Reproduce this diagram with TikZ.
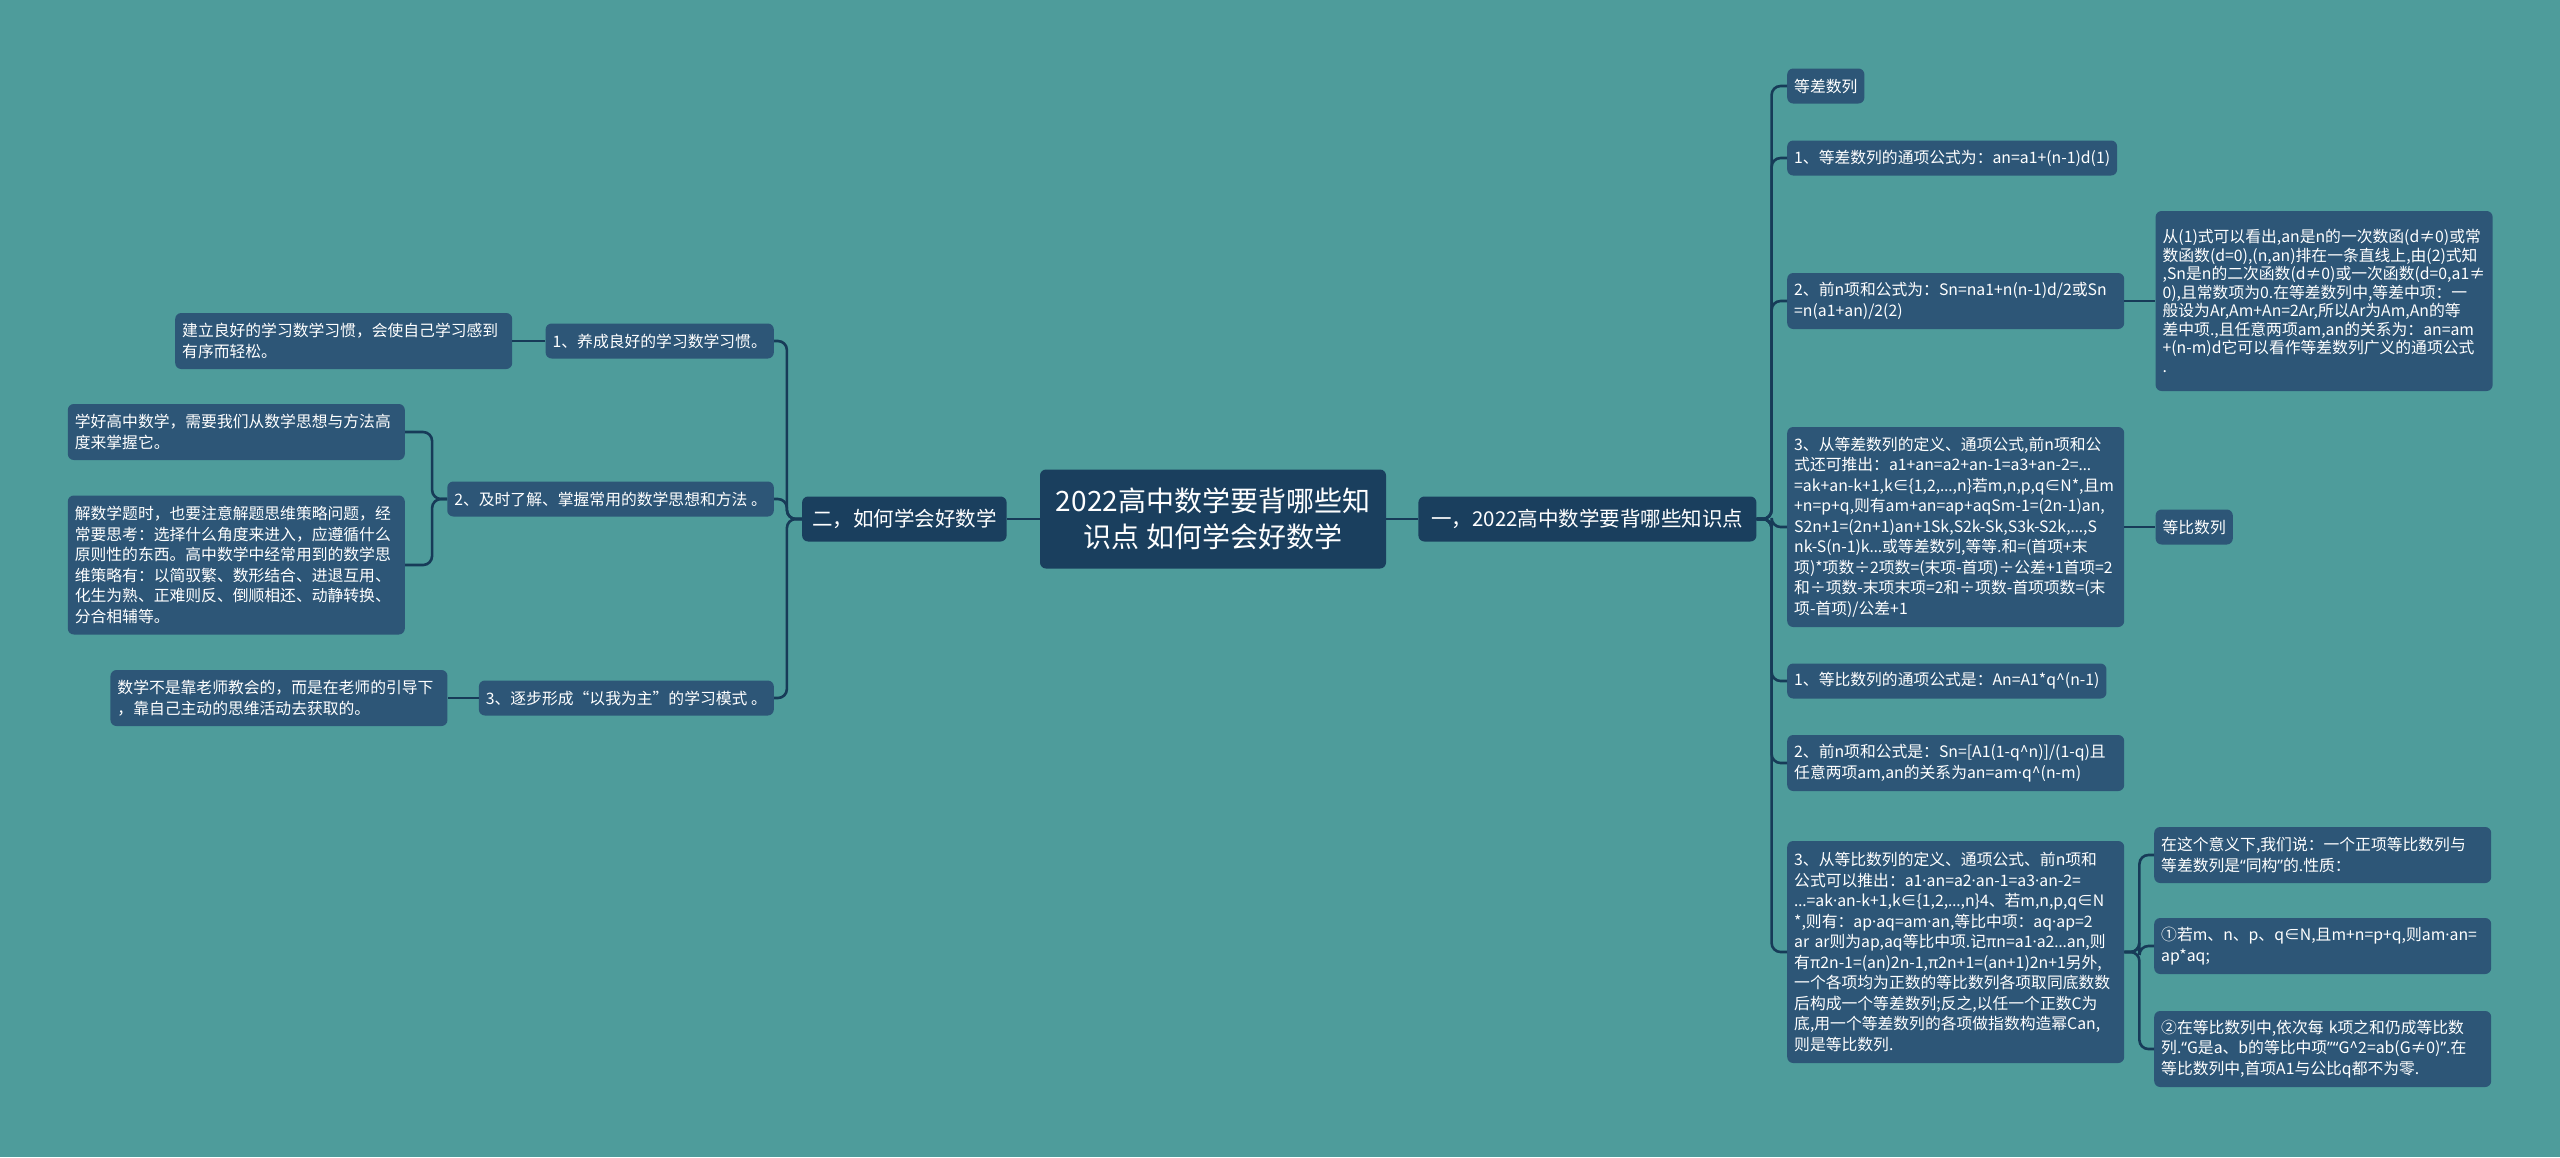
\documentclass[tikz,border=0pt]{standalone}
\usepackage{fontspec}
\setmainfont{Noto Sans CJK SC}
\newfontfamily\latn{Noto Sans}
\usepackage{xcolor}
\usepackage{tikz}
\usetikzlibrary{positioning}
\definecolor{bgteal}{HTML}{4E9C9B}
\definecolor{boxblue}{HTML}{2D5677}
\definecolor{darkblue}{HTML}{1A3F5E}
\definecolor{linkblue}{HTML}{173B58}
\hyphenpenalty=10000\relax
\exhyphenpenalty=10000\relax
\newcommand{\mdot}{{\latn ·}}
\newcommand{\ellip}{{\latn …}}
\newcommand{\qo}{{\latn “}}
\newcommand{\qc}{{\latn ”}}

\begin{document}
\begin{tikzpicture}[x=1pt,y=-1pt,
    s/.style={fill=boxblue,text=white,rounded corners=6pt,inner xsep=7pt,inner ysep=7pt,minimum height=35pt,align=left,
      font=\fontsize{15.8}{20.5}\selectfont},
    w/.style={s,text width=323pt,minimum height=56pt},
    m/.style={fill=darkblue,text=white,rounded corners=6pt,inner xsep=10pt,minimum height=45pt,font=\fontsize{20.5}{24}\selectfont},
    hub/.style={m,minimum width=346pt,minimum height=99pt,align=center,font=\fontsize{28}{36}\selectfont},
    link/.style={draw=linkblue,line width=2.6pt,rounded corners=9pt}
  ]
    \fill[bgteal] (0,0) rectangle (2560,1157);
    \useasboundingbox (0,0) rectangle (2560,1157);

    \node[hub] (root) at (1213,519) {2022高中数学要背哪些知\\识点 如何学会好数学};
    \node[m,minimum width=338pt,right=32pt of root] (R) {一，2022高中数学要背哪些知识点};
    \node[m,left=33pt of root] (L) {二，如何学会好数学};

    \node[s,anchor=west] (r0) at (1787,86) {等差数列};
    \node[s,anchor=west] (r1) at (1787,158) {1、等差数列的通项公式为：an=a1+(n-1)d(1)};
    \node[w,anchor=west] (r2) at (1787,301) {2、前n项和公式为：Sn=na1+n(n-1)d/2或Sn\\=n(a1+an)/2(2)};
    \node[w,anchor=west,minimum height=200pt] (r3) at (1787,527) {3、从等差数列的定义、通项公式,前n项和公\\式还可推出：a1+an=a2+an-1=a3+an-2=\ellip{}\\=ak+an-k+1,k∈\{1,2,\ellip{},n\}若m,n,p,q∈N*,且m\\+n=p+q,则有am+an=ap+aqSm-1=(2n-1)an,\\S2n+1=(2n+1)an+1Sk,S2k-Sk,S3k-S2k,\ellip{},S\\nk-S(n-1)k\ellip{}或等差数列,等等.和=(首项+末\\项)*项数÷2项数=(末项-首项)÷公差+1首项=2\\和÷项数-末项末项=2和÷项数-首项项数=(末\\项-首项)/公差+1};
    \node[s,anchor=west] (r4) at (1787,681) {1、等比数列的通项公式是：An=A1*q\textasciicircum(n-1)};
    \node[w,anchor=west] (r5) at (1787,763) {2、前n项和公式是：Sn=[A1(1-q\textasciicircum n)]/(1-q)且\\任意两项am,an的关系为an=am\mdot{}q\textasciicircum(n-m)};
    \node[w,anchor=west,minimum height=222pt] (r6) at (1787,952) {3、从等比数列的定义、通项公式、前n项和\\公式可以推出：a1\mdot{}an=a2\mdot{}an-1=a3\mdot{}an-2=\\\ellip{}=ak\mdot{}an-k+1,k∈\{1,2,\ellip{},n\}4、若m,n,p,q∈N\\{*},则有：ap\mdot{}aq=am\mdot{}an,等比中项：aq\mdot{}ap=2\\ar ar则为ap,aq等比中项.记πn=a1\mdot{}a2\ellip{}an,则\\有π2n-1=(an)2n-1,π2n+1=(an+1)2n+1另外,\\一个各项均为正数的等比数列各项取同底数数\\后构成一个等差数列;反之,以任一个正数C为\\底,用一个等差数列的各项做指数构造幂Can,\\则是等比数列.};
    \node[w,right=31pt of r2,minimum height=180pt,font=\fontsize{15.8}{18.5}\selectfont] (r2a) {从(1)式可以看出,an是n的一次数函(d≠0)或常\\数函数(d=0),(n,an)排在一条直线上,由(2)式知\\,Sn是n的二次函数(d≠0)或一次函数(d=0,a1≠\\0),且常数项为0.在等差数列中,等差中项：一\\般设为Ar,Am+An=2Ar,所以Ar为Am,An的等\\差中项.,且任意两项am,an的关系为：an=am\\+(n-m)d它可以看作等差数列广义的通项公式\\.};
    \node[s,right=31pt of r3] (r3a) {等比数列};
    \node[w,anchor=west] (r6a) at (2154,855) {在这个意义下,我们说：一个正项等比数列与\\等差数列是\qo{}同构\qc{}的.性质：};
    \node[w,anchor=west] (r6b) at (2154,946) {①若m、n、p、q∈N,且m+n=p+q,则am\mdot{}an=\\ap*aq;};
    \node[w,anchor=west,minimum height=76pt] (r6c) at (2154,1049) {②在等比数列中,依次每 k项之和仍成等比数\\列.\qo{}G是a、b的等比中项\qc\qo{}G\textasciicircum 2=ab(G≠0)\qc{}.在\\等比数列中,首项A1与公比q都不为零.};

    \node[s,anchor=east] (l1) at (774,341) {1、养成良好的学习数学习惯。};
    \node[s,anchor=east] (l2) at (774,499) {2、及时了解、掌握常用的数学思想和方法 。};
    \node[s,anchor=east] (l3) at (774,698) {3、逐步形成“以我为主”的学习模式 。};
    \node[w,left=33pt of l1] (l1a) {建立良好的学习数学习惯，会使自己学习感到\\有序而轻松。};
    \node[w,anchor=east] (l2a) at (405,432) {学好高中数学，需要我们从数学思想与方法高\\度来掌握它。};
    \node[w,anchor=east,minimum height=139pt] (l2b) at (405,565) {解数学题时，也要注意解题思维策略问题，经\\常要思考：选择什么角度来进入，应遵循什么\\原则性的东西。高中数学中经常用到的数学思\\维策略有：以简驭繁、数形结合、进退互用、\\化生为熟、正难则反、倒顺相还、动静转换、\\分合相辅等。};
    \node[w,left=31pt of l3] (l3a) {数学不是靠老师教会的，而是在老师的引导下\\，靠自己主动的思维活动去获取的。};

    \draw[link] (root.east) -- (R.west);
    \draw[link] (root.west) -- (L.east);
    \draw[link] (R.east) -- ++(15,0) |- (r0.west);
    \draw[link] (R.east) -- ++(15,0) |- (r1.west);
    \draw[link] (R.east) -- ++(15,0) |- (r2.west);
    \draw[link] (R.east) -- ++(15,0) |- (r3.west);
    \draw[link] (R.east) -- ++(15,0) |- (r4.west);
    \draw[link] (R.east) -- ++(15,0) |- (r5.west);
    \draw[link] (R.east) -- ++(15,0) |- (r6.west);
    \draw[link] (r2.east) -- (r2a.west);
    \draw[link] (r3.east) -- (r3a.west);
    \draw[link] (r6.east) -- ++(15,0) |- (r6a.west);
    \draw[link] (r6.east) -- ++(15,0) |- (r6b.west);
    \draw[link] (r6.east) -- ++(15,0) |- (r6c.west);
    \draw[link] (L.west) -- ++(-15,0) |- (l1.east);
    \draw[link] (L.west) -- ++(-15,0) |- (l2.east);
    \draw[link] (L.west) -- ++(-15,0) |- (l3.east);
    \draw[link] (l1.west) -- (l1a.east);
    \draw[link] (l2.west) -- ++(-15,0) |- (l2a.east);
    \draw[link] (l2.west) -- ++(-15,0) |- (l2b.east);
    \draw[link] (l3.west) -- (l3a.east);
  \end{tikzpicture}
\end{document}
